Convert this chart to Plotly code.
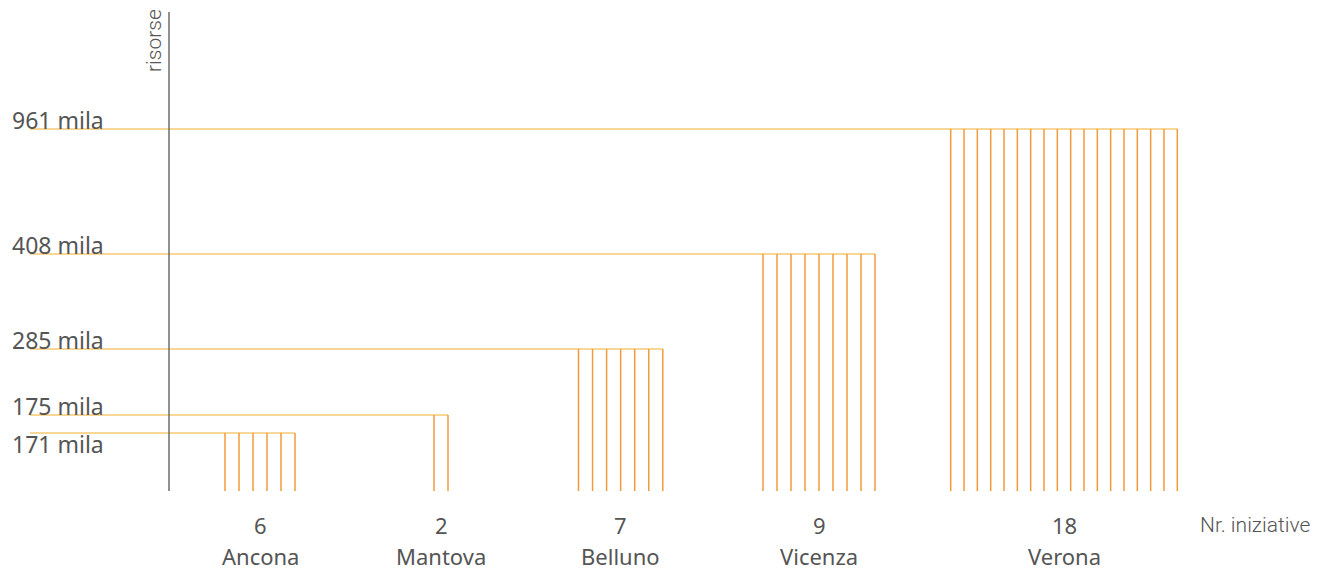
import plotly.graph_objects as go

# data
cities = ["Ancona", "Mantova", "Belluno", "Vicenza", "Verona"]
n_iniziative = [6, 2, 7, 9, 18]
risorse_mila = [171, 175, 285, 408, 961]
tick_labels = ["171 mila", "175 mila", "285 mila", "408 mila", "961 mila"]

# drawing geometry (the original uses a hand-drawn, non-linear height scale)
drawn_height = [58, 76, 142, 237, 362]
group_left = [225, 434, 578.5, 763, 950.7]
group_step = [14, 14, 14.05, 14, 13.33]
label_dy = [-11, 9, 9, 9, 9]

H_COLOR = "#f6c873"
V_COLOR = "#f39a3c"
TXT = "#555555"
FONT = "Noto Sans"
THIN = "Roboto, sans-serif"

fig = go.Figure()

centers = []
for i, city in enumerate(cities):
    n = n_iniziative[i]
    h = drawn_height[i]
    xs_bars = [group_left[i] + k * group_step[i] for k in range(n)]
    centers.append((xs_bars[0] + xs_bars[-1]) / 2)

    # horizontal level line
    fig.add_trace(go.Scatter(
        x=[30, xs_bars[-1]], y=[h, h], mode="lines",
        line=dict(color=H_COLOR, width=1.6), hoverinfo="skip",
    ))
    # one vertical line per initiative
    vx, vy = [], []
    for x in xs_bars:
        vx += [x, x, None]
        vy += [0, h, None]
    fig.add_trace(go.Scatter(
        x=vx, y=vy, mode="lines",
        line=dict(color=V_COLOR, width=1.5), hoverinfo="skip",
    ))

# vertical axis line
fig.add_trace(go.Scatter(
    x=[169, 169], y=[0, 479], mode="lines",
    line=dict(color="#6b6b6b", width=1.5), hoverinfo="skip",
))

annotations = []
for i, lab in enumerate(tick_labels):
    annotations.append(dict(
        x=10, y=drawn_height[i] + label_dy[i], text=lab, showarrow=False,
        xanchor="left", yanchor="middle", font=dict(family=FONT, size=23, color=TXT),
    ))

for i, city in enumerate(cities):
    annotations.append(dict(
        x=centers[i], y=-34, text=str(n_iniziative[i]), showarrow=False,
        xanchor="center", yanchor="middle", font=dict(family=FONT, size=22, color=TXT),
    ))
    annotations.append(dict(
        x=centers[i], y=-65, text=city, showarrow=False,
        xanchor="center", yanchor="middle", font=dict(family=FONT, size=22, color=TXT),
    ))

annotations.append(dict(
    x=1312, y=-34, text="Nr. iniziative", showarrow=False,
    xanchor="right", yanchor="middle",
    font=dict(family=THIN, size=21, color=TXT, weight=300),
))
annotations.append(dict(
    x=154, y=450, text="risorse", showarrow=False, textangle=-90,
    xanchor="center", yanchor="middle",
    font=dict(family=THIN, size=21, color=TXT, weight=300),
))

# the page adds an 8px body margin, so the axes ranges are offset by 8 px
fig.update_layout(
    width=1329, height=571,
    margin=dict(l=0, r=0, t=0, b=0),
    paper_bgcolor="white", plot_bgcolor="white",
    showlegend=False,
    xaxis=dict(range=[8, 1337], visible=False, fixedrange=True),
    yaxis=dict(range=[-88, 483], visible=False, fixedrange=True),
    annotations=annotations,
)

fig.write_html("out.html")
